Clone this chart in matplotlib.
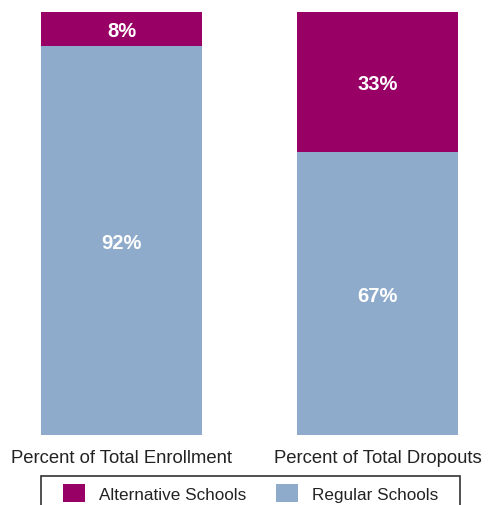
import matplotlib
matplotlib.use("Agg")
import matplotlib.pyplot as plt
from matplotlib.patches import Rectangle

plt.rcParams["font.family"] = ["Liberation Sans", "DejaVu Sans"]

# Data
categories = ["Percent of Total Enrollment", "Percent of Total Dropouts"]
alternative = [8, 33]
regular = [92, 67]
series_names = ["Alternative Schools", "Regular Schools"]

alt_color = "#990066"
reg_color = "#8FABCB"

W, H = 488, 506
fig = plt.figure(figsize=(W / 100, H / 100), dpi=100)

# axes spans the full width, bars from y=13 to y=436 px
ax = fig.add_axes([0, (H - 436) / H, 1, 423 / H])

x = [0, 1]
width = 161 / 256
b_reg = ax.bar(x, regular, width=width, color=reg_color, label=series_names[1])
b_alt = ax.bar(x, alternative, width=width, bottom=regular, color=alt_color,
               label=series_names[0])

# labels in the middle of each segment
for i in range(len(x)):
    ax.text(x[i], regular[i] / 2 - 0.6, f"{regular[i]}%", ha="center", va="center",
            color="white", fontsize=14.5, fontweight="bold")
    ax.text(x[i], regular[i] + alternative[i] / 2 - 0.4, f"{alternative[i]}%",
            ha="center", va="center", color="white", fontsize=14.5, fontweight="bold")

ax.set_xlim(-121.5 / 256, 1 + (W - 377.5) / 256)
ax.set_ylim(0, 100)
ax.set_xticks(x)
ax.set_xticklabels(categories, fontsize=13.3, color="#222222")
ax.tick_params(axis="x", length=0, pad=10)
ax.set_yticks([])
for s in ax.spines.values():
    s.set_visible(False)

# legend box (runs off the bottom edge)
frame = Rectangle((41 / W, 1 - 512 / H), (460 - 41) / W, (512 - 477) / H,
                  transform=fig.transFigure, fill=False, edgecolor="#333333",
                  linewidth=1.2, clip_on=False)
fig.add_artist(frame)

fs = 12.3
leg = fig.legend([b_alt, b_reg], series_names, loc="upper left",
                 bbox_to_anchor=(63 / W, 1 - 485 / H), ncol=2, frameon=False,
                 fontsize=fs, borderpad=0, borderaxespad=0,
                 handlelength=22 / 17.1, handleheight=21 / 17.1,
                 handletextpad=14 / 17.1, columnspacing=30 / 17.1)
for t in leg.get_texts():
    t.set_color("#222222")

fig.savefig("out.png", dpi=100)
